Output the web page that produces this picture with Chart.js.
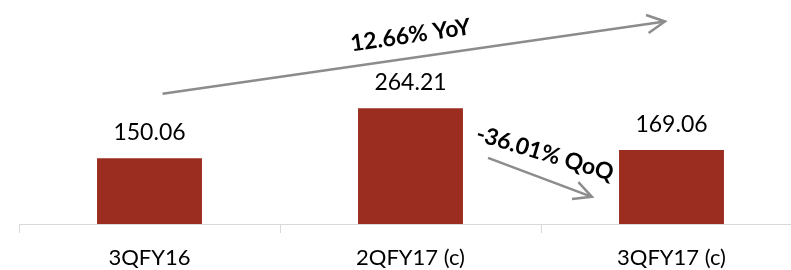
<!DOCTYPE html>
<html>
<head>
<meta charset="utf-8">
<script src="https://cdn.jsdelivr.net/npm/chart.js@4.4.1/dist/chart.umd.min.js"></script>
<style>
  html, body { margin: 0; padding: 0; background: #fff; overflow: hidden; }
  #wrap { width: 820px; height: 270px; position: relative; }
</style>
</head>
<body>
<div id="wrap"><canvas id="c"></canvas></div>
<script>
// ---- Data ----
const categories = ['3QFY16', '2QFY17 (c)', '3QFY17 (c)'];
const values = [150.06, 264.21, 169.06];
const valueLabels = ['150.06', '264.21', '169.06'];
// Annotations (in data coordinates: category index, value)
const yoyText = '12.66% YoY';
const qoqText = '-36.01% QoQ';
const yoyArrow = { from: [0.05, 297], to: [1.975, 462] };
const qoqArrow = { from: [1.297, 151], to: [1.695, 62] };
const yoyLabelAt = [1.0, 430];
const qoqLabelAt = [1.515, 161];

const FONT = 'Lato';
const BAR = '#9B2D20';
const ARROW = '#8c8c8c';

const valueLabelPlugin = {
  id: 'valueLabels',
  afterDatasetsDraw(chart) {
    const ctx = chart.ctx;
    const meta = chart.getDatasetMeta(0);
    ctx.save();
    ctx.font = '23px ' + FONT;
    ctx.fillStyle = '#000';
    ctx.textAlign = 'center';
    ctx.textBaseline = 'alphabetic';
    meta.data.forEach((bar, i) => {
      ctx.fillText(valueLabels[i], bar.x, bar.y - 18);
    });
    ctx.restore();
  }
};

function px(chart, p) {
  return [chart.scales.x.getPixelForValue(p[0]), chart.scales.y.getPixelForValue(p[1])];
}

function drawArrow(ctx, a, b) {
  const ang = Math.atan2(b[1] - a[1], b[0] - a[0]);
  ctx.beginPath();
  ctx.moveTo(a[0], a[1]);
  ctx.lineTo(b[0], b[1]);
  ctx.stroke();
  const L = 20, w = 27 * Math.PI / 180;
  ctx.beginPath();
  ctx.moveTo(b[0] - L * Math.cos(ang - w), b[1] - L * Math.sin(ang - w));
  ctx.lineTo(b[0], b[1]);
  ctx.lineTo(b[0] - L * Math.cos(ang + w), b[1] - L * Math.sin(ang + w));
  ctx.stroke();
}

function drawRotText(ctx, text, c, deg) {
  ctx.save();
  ctx.translate(c[0], c[1]);
  ctx.rotate(deg * Math.PI / 180);
  ctx.font = 'bold 23px ' + FONT;
  ctx.fillStyle = '#000';
  ctx.textAlign = 'center';
  ctx.textBaseline = 'middle';
  ctx.fillText(text, 0, 0);
  ctx.restore();
}

const annotationPlugin = {
  id: 'annots',
  afterDraw(chart) {
    const ctx = chart.ctx;
    ctx.save();
    ctx.strokeStyle = ARROW;
    ctx.lineWidth = 2.5;
    ctx.lineCap = 'butt';
    const ya = px(chart, yoyArrow.from), yb = px(chart, yoyArrow.to);
    const qa = px(chart, qoqArrow.from), qb = px(chart, qoqArrow.to);
    drawArrow(ctx, ya, yb);
    drawArrow(ctx, qa, qb);
    const yAng = Math.atan2(yb[1] - ya[1], yb[0] - ya[0]) * 180 / Math.PI;
    drawRotText(ctx, yoyText, px(chart, yoyLabelAt), yAng);
    drawRotText(ctx, qoqText, px(chart, qoqLabelAt), 16.5);
    ctx.restore();
  }
};

function build() {
  new Chart(document.getElementById('c'), {
    type: 'bar',
    data: {
      labels: categories,
      datasets: [{
        data: values,
        backgroundColor: BAR,
        borderWidth: 0,
        categoryPercentage: 1.0,
        barPercentage: 0.402
      }]
    },
    options: {
      responsive: true,
      maintainAspectRatio: false,
      animation: false,
      events: [],
      layout: { padding: { left: 19, right: 18, top: 0, bottom: 0 } },
      plugins: { legend: { display: false }, tooltip: { enabled: false } },
      scales: {
        y: { display: false, min: 0, max: 511 },
        x: {
          offset: true,
          grid: { display: true, drawOnChartArea: false, drawTicks: true, tickLength: 9, color: '#d9d9d9', offset: true },
          border: { display: true, color: '#d9d9d9', width: 1 },
          ticks: { color: '#000', font: { family: FONT, size: 22 }, padding: 12, maxRotation: 0, autoSkip: false },
          afterFit(scale) { scale.height = 46; }
        }
      }
    },
    plugins: [valueLabelPlugin, annotationPlugin]
  });
}

if (document.fonts && document.fonts.load) {
  Promise.all([document.fonts.load('22px Lato'), document.fonts.load('bold 23px Lato')]).then(build, build);
} else { build(); }
</script>
</body>
</html>
